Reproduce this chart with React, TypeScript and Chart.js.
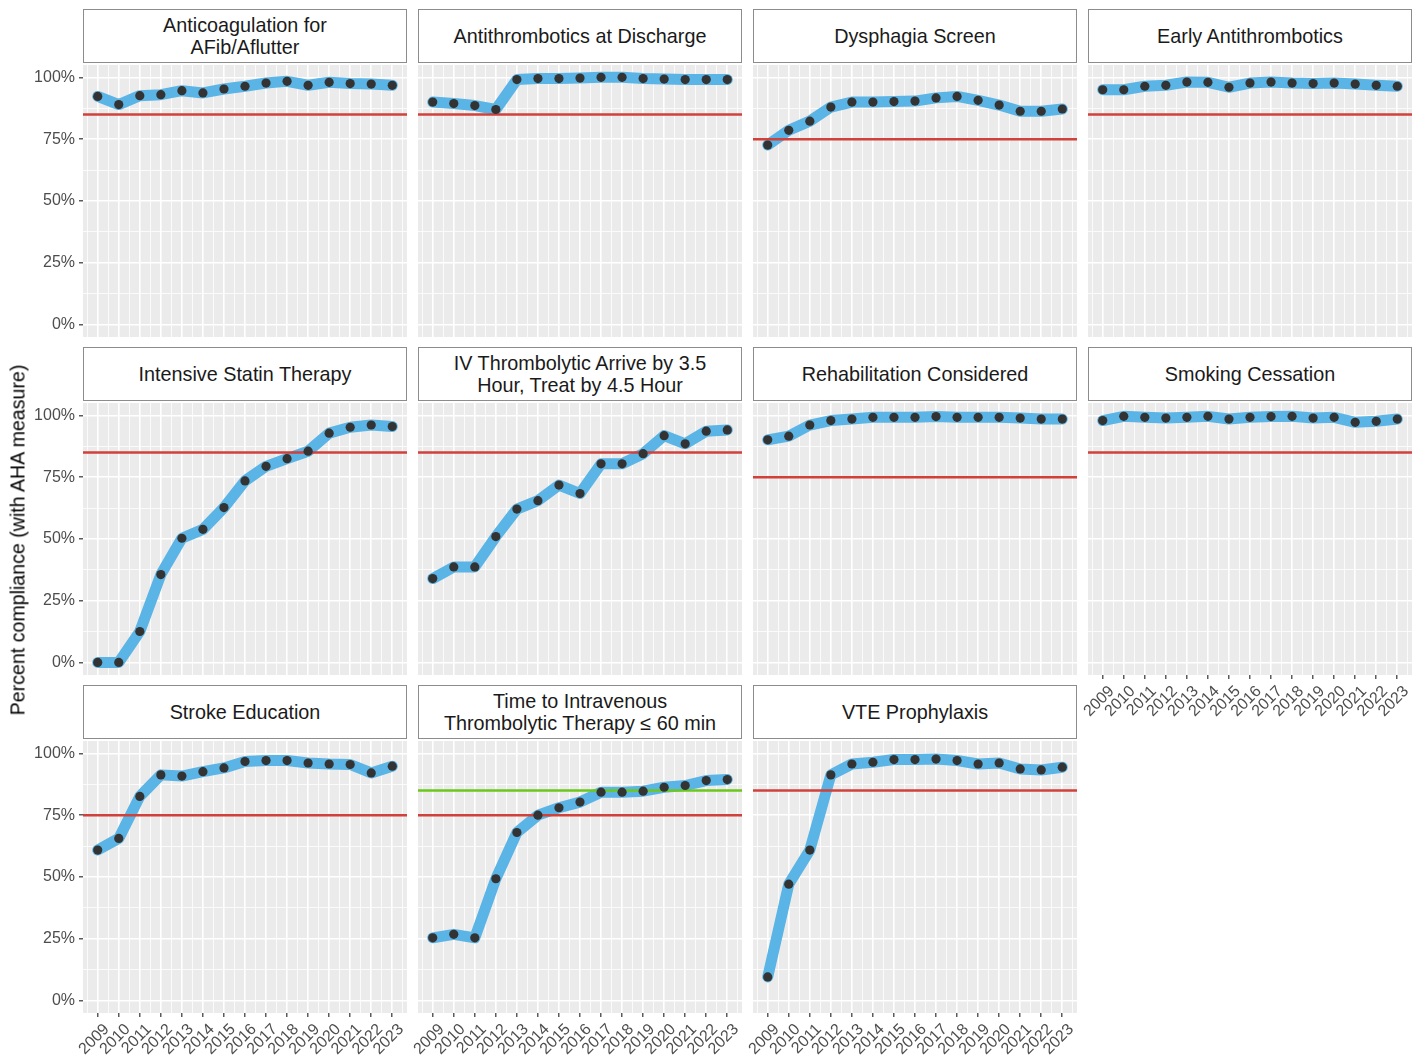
import React, { useEffect, useRef } from "react";
import { Chart, registerables } from "chart.js";

Chart.register(...registerables);

// ---------- data ----------
const years = [2009, 2010, 2011, 2012, 2013, 2014, 2015, 2016, 2017, 2018, 2019, 2020, 2021, 2022, 2023];
const yTickValues = [0, 25, 50, 75, 100];

const anticoag = [92.3, 89.0, 92.6, 93.0, 94.6, 93.7, 95.3, 96.4, 97.7, 98.4, 96.8, 98.0, 97.5, 97.3, 96.8];
const antithromb = [90.0, 89.4, 88.6, 87.0, 99.1, 99.5, 99.5, 99.7, 100, 100, 99.5, 99.3, 99.1, 99.1, 99.1];
const dysphagia = [72.6, 78.6, 82.3, 88.0, 90.0, 90.0, 90.2, 90.4, 91.7, 92.3, 90.7, 88.8, 86.3, 86.3, 87.2];
const earlyAnti = [95.0, 95.0, 96.4, 96.8, 98.1, 98.0, 96.0, 97.7, 98.1, 97.7, 97.5, 97.7, 97.3, 96.8, 96.4];
const statin = [0.1, 0.1, 12.6, 35.6, 50.3, 53.9, 62.7, 73.5, 79.4, 82.5, 85.5, 92.8, 95.2, 96.1, 95.5];
const ivThromb = [34.0, 38.7, 38.7, 51.0, 62.1, 65.5, 71.8, 68.4, 80.4, 80.4, 84.5, 91.8, 88.5, 93.6, 94.1];
const rehab = [90.1, 91.6, 96.1, 97.9, 98.5, 99.2, 99.2, 99.2, 99.5, 99.2, 99.2, 99.2, 98.9, 98.5, 98.5];
const smoking = [97.9, 99.6, 99.2, 98.9, 99.2, 99.6, 98.5, 99.2, 99.5, 99.6, 98.9, 99.2, 97.2, 97.6, 98.5];
const strokeEd = [60.9, 65.6, 82.6, 91.3, 90.8, 92.6, 94.1, 96.7, 97.1, 97.1, 96.1, 95.7, 95.5, 92.1, 94.8];
const timeToIv = [25.4, 26.8, 25.4, 49.3, 68.0, 75.0, 78.0, 80.3, 84.3, 84.3, 84.7, 86.3, 87.0, 89.0, 89.4];
const vte = [9.6, 47.1, 60.9, 91.3, 95.7, 96.4, 97.5, 97.5, 97.7, 97.1, 95.7, 96.1, 93.7, 93.3, 94.4];

const titles = [
  "Anticoagulation for\nAFib/Aflutter",
  "Antithrombotics at Discharge",
  "Dysphagia Screen",
  "Early Antithrombotics",
  "Intensive Statin Therapy",
  "IV Thrombolytic Arrive by 3.5\nHour, Treat by 4.5 Hour",
  "Rehabilitation Considered",
  "Smoking Cessation",
  "Stroke Education",
  "Time to Intravenous\nThrombolytic Therapy ≤ 60 min",
  "VTE Prophylaxis",
];
const seriesList = [anticoag, antithromb, dysphagia, earlyAnti, statin, ivThromb, rehab, smoking, strokeEd, timeToIv, vte];
const redTargets = [85, 85, 75, 85, 85, 85, 75, 85, 75, 75, 85];
const greenTargets: (number | null)[] = [null, null, null, null, null, null, null, null, null, 85, null];

// ---------- styling / layout ----------
const FONT = "'Liberation Sans', Arial, sans-serif";
const X_MIN = 2008.3;
const X_MAX = 2023.7;
const Y_MIN = -5;
const Y_MAX = 105;
const PANEL_W = 324;
const PANEL_H = 272;
const STRIP_H = 54;
const COL_LEFT = [83, 418, 753, 1088];
const ROW_TOP = [9, 347, 685];
const Y_AXIS_W = 83;
const X_LABEL_SPACE = 40;
const X_AXIS_H = 60;

const bgPlugin = {
  id: "panelBg",
  beforeDraw(chart: any) {
    const { ctx, chartArea } = chart;
    ctx.save();
    ctx.fillStyle = "#EBEBEB";
    ctx.fillRect(chartArea.left, chartArea.top, chartArea.right - chartArea.left, chartArea.bottom - chartArea.top);
    ctx.restore();
  },
};

function zeroPad(scale: any) {
  scale.paddingLeft = 0;
  scale.paddingRight = 0;
  scale.paddingTop = 0;
  scale.paddingBottom = 0;
}

function Panel({ idx }: { idx: number }) {
  const ref = useRef<HTMLCanvasElement | null>(null);
  const row = Math.floor(idx / 4);
  const col = idx % 4;
  const showY = col === 0;
  const showX = row === 2 || (row === 1 && col === 3);
  const yw = showY ? Y_AXIS_W : showX ? X_LABEL_SPACE : 0;
  const xh = showX ? X_AXIS_H : 0;
  const canvasLeft = COL_LEFT[col] - yw;
  const panelTop = ROW_TOP[row] + STRIP_H + 2;
  const cw = PANEL_W + yw;
  const chh = PANEL_H + xh;

  useEffect(() => {
    const values = seriesList[idx];
    const pts = years.map((y, i) => ({ x: y, y: values[i] }));
    const datasets: any[] = [
      {
        data: pts,
        showLine: false,
        pointRadius: 4.6,
        pointBackgroundColor: "#333333",
        pointBorderWidth: 0,
      },
    ];
    if (greenTargets[idx] !== null) {
      datasets.push({
        data: [
          { x: X_MIN, y: greenTargets[idx] },
          { x: X_MAX, y: greenTargets[idx] },
        ],
        borderColor: "#6CC71B",
        borderWidth: 2.5,
        pointRadius: 0,
      });
    }
    datasets.push({
      data: [
        { x: X_MIN, y: redTargets[idx] },
        { x: X_MAX, y: redTargets[idx] },
      ],
      borderColor: "#D0413B",
      borderWidth: 2.5,
      pointRadius: 0,
    });
    datasets.push({
      data: pts,
      borderColor: "#5AB4E5",
      borderWidth: 11,
      pointRadius: 0,
      tension: 0,
      borderJoinStyle: "round",
      borderCapStyle: "round",
    });

    const xTicks: number[] = [];
    years.forEach((y) => {
      xTicks.push(y - 0.5, y);
    });
    xTicks.push(years[years.length - 1] + 0.5);
    const yTicks: number[] = [];
    yTickValues.forEach((v, i) => {
      yTicks.push(v);
      if (i < yTickValues.length - 1) yTicks.push((v + yTickValues[i + 1]) / 2);
    });

    const chart = new Chart(ref.current as HTMLCanvasElement, {
      type: "line",
      data: { datasets },
      plugins: [bgPlugin],
      options: {
        animation: false,
        responsive: false,
        devicePixelRatio: 1,
        events: [],
        layout: { padding: 0, autoPadding: false },
        plugins: { legend: { display: false }, tooltip: { enabled: false } },
        scales: {
          x: {
            type: "linear",
            min: X_MIN,
            max: X_MAX,
            afterBuildTicks: (axis: any) => {
              axis.ticks = xTicks.map((v) => ({ value: v }));
            },
            afterFit: (scale: any) => {
              scale.height = xh;
              zeroPad(scale);
            },
            border: { display: false },
            grid: {
              color: "#FFFFFF",
              lineWidth: (c: any) => (Number.isInteger(c.tick?.value) ? 1.6 : 0.8),
              drawTicks: showX,
              tickLength: 4,
              tickColor: (c: any) => (Number.isInteger(c.tick?.value) ? "#333333" : "rgba(0,0,0,0)"),
              tickWidth: 1.2,
            },
            ticks: {
              display: showX,
              autoSkip: false,
              minRotation: 45,
              maxRotation: 45,
              padding: 3,
              labelOffset: 9,
              color: "#4D4D4D",
              font: { family: FONT, size: 16 },
              callback: (v: any) => (Number.isInteger(v) ? String(v) : ""),
            },
          },
          y: {
            type: "linear",
            min: Y_MIN,
            max: Y_MAX,
            afterBuildTicks: (axis: any) => {
              axis.ticks = yTicks.map((v) => ({ value: v }));
            },
            afterFit: (scale: any) => {
              scale.width = yw;
              zeroPad(scale);
            },
            border: { display: false },
            grid: {
              color: "#FFFFFF",
              lineWidth: (c: any) => (c.tick && c.tick.value % 25 === 0 ? 1.6 : 0.8),
              drawTicks: showY,
              tickLength: 4,
              tickColor: (c: any) => (c.tick && c.tick.value % 25 === 0 ? "#333333" : "rgba(0,0,0,0)"),
              tickWidth: 1.2,
            },
            ticks: {
              display: showY,
              padding: 4,
              color: "#4D4D4D",
              font: { family: FONT, size: 16 },
              callback: (v: any) => (v % 25 === 0 ? v + "%" : ""),
            },
          },
        },
      } as any,
    });
    return () => chart.destroy();
  }, [idx]);

  return (
    <>
      <div
        style={{
          position: "absolute",
          left: COL_LEFT[col],
          top: ROW_TOP[row],
          width: PANEL_W,
          height: STRIP_H,
          boxSizing: "border-box",
          border: "1px solid #8C8C8C",
          background: "#FFFFFF",
          display: "flex",
          alignItems: "center",
          justifyContent: "center",
          textAlign: "center",
          whiteSpace: "pre-line",
          fontFamily: FONT,
          fontSize: 19.8,
          lineHeight: "22px",
          color: "#1A1A1A",
        }}
      >
        {titles[idx]}
      </div>
      <canvas
        ref={ref}
        width={cw}
        height={chh}
        style={{ position: "absolute", left: canvasLeft, top: panelTop, width: cw, height: chh }}
      />
    </>
  );
}

export default function App() {
  return (
    <div
      style={{
        position: "absolute",
        left: 0,
        top: 0,
        width: 1426,
        height: 1057,
        background: "#FFFFFF",
        overflow: "hidden",
      }}
    >
      {titles.map((_, i) => (
        <Panel key={i} idx={i} />
      ))}
      <div
        style={{
          position: "absolute",
          left: 18,
          top: 540,
          transform: "translate(-50%, -50%) rotate(-90deg)",
          whiteSpace: "nowrap",
          fontFamily: FONT,
          fontSize: 19.6,
          color: "#000000",
        }}
      >
        Percent compliance (with AHA measure)
      </div>
    </div>
  );
}
